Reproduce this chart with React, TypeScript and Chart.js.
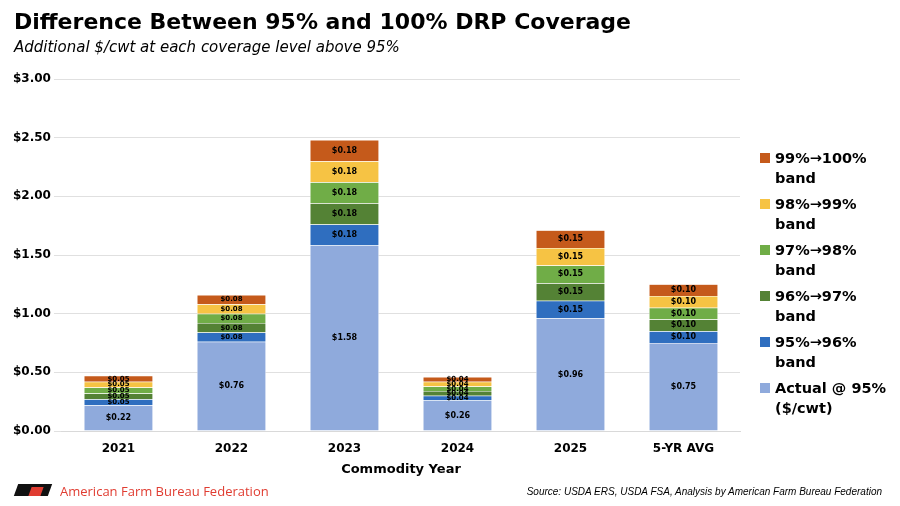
import React, { useEffect, useRef } from "react";
import { Chart, registerables } from "chart.js";
Chart.register(...registerables);

const categories = ["2021", "2022", "2023", "2024", "2025", "5-YR AVG"];
const actual95 = [0.22, 0.76, 1.58, 0.26, 0.96, 0.75];
const band95_96 = [0.05, 0.08, 0.18, 0.04, 0.15, 0.1];
const band96_97 = [0.05, 0.08, 0.18, 0.04, 0.15, 0.1];
const band97_98 = [0.05, 0.08, 0.18, 0.04, 0.15, 0.1];
const band98_99 = [0.05, 0.08, 0.18, 0.04, 0.15, 0.1];
const band99_100 = [0.05, 0.08, 0.18, 0.04, 0.15, 0.1];
const seriesNames = ["Actual @ 95%\n($/cwt)", "95%→96%\nband", "96%→97%\nband", "97%→98%\nband", "98%→99%\nband", "99%→100%\nband"];
const colors = ["#8FAADC", "#2F6EBF", "#548235", "#70AD47", "#F6C344", "#C55A1B"];
const yTicks = [0, 0.5, 1, 1.5, 2, 2.5, 3];

const FONT = "'DejaVu Sans', sans-serif";

export default function App() {
  const ref = useRef<HTMLCanvasElement>(null);
  useEffect(() => {
    const series = [actual95, band95_96, band96_97, band97_98, band98_99, band99_100];
    const labelPlugin = {
      id: "segLabels",
      afterDatasetsDraw(chart: any) {
        const ctx = chart.ctx;
        ctx.save();
        ctx.textAlign = "center";
        ctx.textBaseline = "middle";
        ctx.fillStyle = "#000";
        chart.data.datasets.forEach((ds: any, i: number) => {
          const meta = chart.getDatasetMeta(i);
          meta.data.forEach((bar: any, j: number) => {
            const v = ds.data[j];
            const h = Math.abs(bar.base - bar.y);
            const size = h < 10 ? 7 : 8;
            ctx.font = `bold ${size}px ${FONT}`;
            ctx.fillText("$" + v.toFixed(2), bar.x, (bar.y + bar.base) / 2);
          });
        });
        ctx.restore();
      },
    };
    const chart = new Chart(ref.current!, {
      type: "bar",
      data: {
        labels: categories,
        datasets: series.map((d, i) => ({
          label: seriesNames[i],
          data: d,
          backgroundColor: colors[i],
          borderColor: "#fff",
          borderWidth: 0.5,
          barPercentage: 0.61,
          categoryPercentage: 1,
        })),
      },
      options: {
        animation: false,
        responsive: false,
        layout: { padding: { left: 10, top: 79, right: 160, bottom: 25 } },
        plugins: { legend: { display: false }, tooltip: { enabled: false } },
        scales: {
          x: {
            stacked: true,
            grid: { display: false },
            border: { color: "#d9d9d9" },
            ticks: { color: "#000", font: { family: FONT, weight: "bold", size: 12 } },
            title: { display: true, text: "Commodity Year", color: "#000", font: { family: FONT, weight: "bold", size: 13 }, padding: { top: 2 } },
          },
          y: {
            stacked: true,
            min: 0,
            max: 3,
            afterBuildTicks: (s: any) => { s.ticks = yTicks.map((v) => ({ value: v })); },
            grid: { color: "#e0e0e0" },
            border: { display: false },
            ticks: { color: "#000", font: { family: FONT, weight: "bold", size: 12 }, callback: (v: any) => "$" + Number(v).toFixed(2) },
          },
        },
      },
      plugins: [labelPlugin],
    });
    return () => chart.destroy();
  }, []);

  const legendOrder = [5, 4, 3, 2, 1, 0];
  return (
    <div style={{ position: "relative", width: 900, height: 506, margin: -8, background: "#fff", fontFamily: FONT, overflow: "hidden" }}>
      <canvas ref={ref} width={900} height={506} style={{ position: "absolute", left: 0, top: 0 }} />
      <div style={{ position: "absolute", left: 14, top: 9, fontSize: 22, fontWeight: "bold", color: "#000" }}>
        Difference Between 95% and 100% DRP Coverage
      </div>
      <div style={{ position: "absolute", left: 14, top: 38, fontSize: 15, fontStyle: "italic", color: "#000" }}>
        Additional $/cwt at each coverage level above 95%
      </div>
      <div style={{ position: "absolute", left: 760, top: 148 }}>
        {legendOrder.map((i) => (
          <div key={i} style={{ display: "flex", alignItems: "flex-start", marginBottom: 6 }}>
            <div style={{ width: 10, height: 10, background: colors[i], marginTop: 5, marginRight: 5 }} />
            <div style={{ fontSize: 14.5, fontWeight: "bold", lineHeight: "20px", whiteSpace: "pre", color: "#000" }}>{seriesNames[i]}</div>
          </div>
        ))}
      </div>
      <div style={{ position: "absolute", left: 16, top: 484, width: 34, height: 12, background: "#111", transform: "skewX(-20deg)" }} />
      <div style={{ position: "absolute", left: 30, top: 487, width: 12, height: 9, background: "#e03c31", transform: "skewX(-20deg)" }} />
      <div style={{ position: "absolute", left: 60, top: 482, fontSize: 13, color: "#e03c31", fontFamily: "'Open Sans', sans-serif" }}>
        American Farm Bureau Federation
      </div>
      <div style={{ position: "absolute", right: 18, top: 486, fontSize: 10, fontStyle: "italic", color: "#000", fontFamily: "'Liberation Sans', sans-serif" }}>
        Source: USDA ERS, USDA FSA, Analysis by American Farm Bureau Federation
      </div>
    </div>
  );
}
